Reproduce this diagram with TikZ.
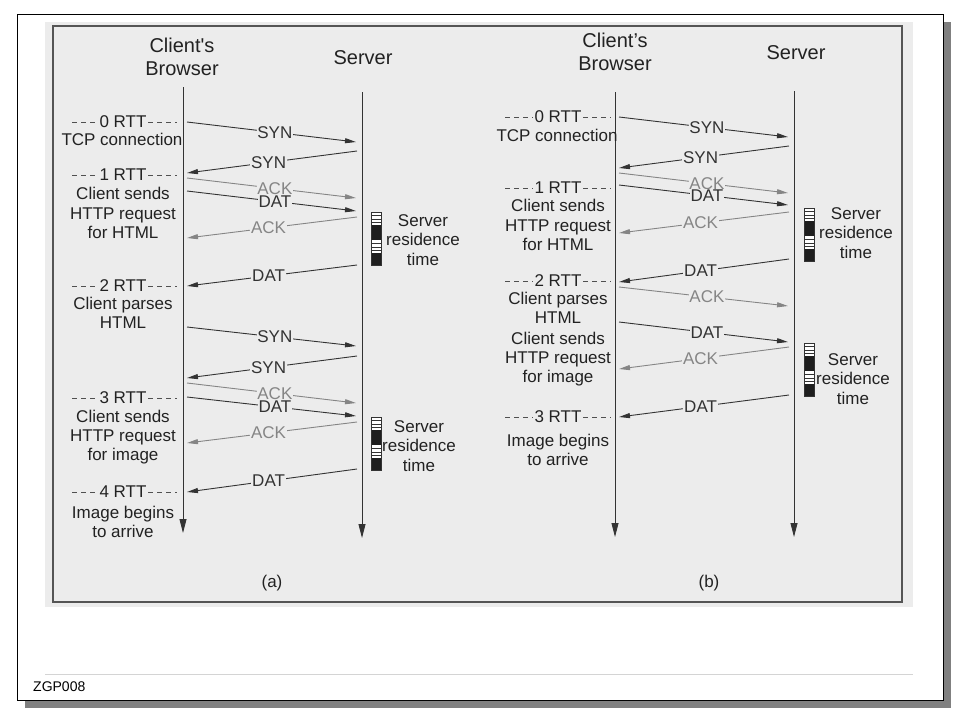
\documentclass[tikz,border=0pt]{standalone}
\usepackage{fontspec}
\setmainfont{Liberation Sans}
\usetikzlibrary{arrows.meta}
\definecolor{bgc}{HTML}{ECECEC}
\definecolor{txc}{HTML}{222222}
\definecolor{lnc}{HTML}{333333}
\definecolor{ltc}{HTML}{858585}
\definecolor{dsc}{HTML}{505050}
\definecolor{shc}{HTML}{808080}
\definecolor{frc}{HTML}{555555}
\definecolor{blk}{HTML}{1E1E1E}
\definecolor{sepc}{HTML}{D4D4D4}
\newcommand{\msgline}[7]{%
  \coordinate (#1a) at (#4,#5);
  \coordinate (#1b) at (#6,#7);
  \draw[msgarrow,#2] (#1a) -- node[lbl] (#1l) {#3} (#1b);}
\newcommand{\rttmark}[6]{%
  \node[rtt] (#1) at (#2,#3) {#6};
  \coordinate (#1l) at (#4,#3);
  \coordinate (#1r) at (#5,#3);
  \draw[dashline] (#1l) -- (#1.west);
  \draw[dashline] (#1.east) -- (#1r);}
\newcommand{\resbox}[2]{%
  \begin{scope}[shift={(#1,#2)}]
    \fill[white] (0,0) rectangle (10,53);
    \fill[blk] (0,13) rectangle (10,28);
    \fill[blk] (0,41) rectangle (10,53);
    \foreach \yy in {3.5,7,10.5,31.5,35,38.5}
      \draw[lnc,line width=0.6pt] (0,\yy) -- (10,\yy);
    \draw[lnc,line width=0.8pt] (0,0) rectangle (10,53);
  \end{scope}}
\begin{document}
\begin{tikzpicture}[x=1pt,y=-1pt,
  txt/.style={text=txc,font=\fontsize{17}{19.2}\selectfont,align=center,inner sep=0pt},
  hdr/.style={text=txc,font=\fontsize{20}{23}\selectfont,align=center,inner sep=0pt},
  lbl/.style={fill=bgc,font=\fontsize{17}{19}\selectfont,inner sep=0.8pt,pos=0.52},
  rtt/.style={text=txc,fill=bgc,font=\fontsize{17}{19}\selectfont,inner sep=1.5pt},
  dashline/.style={draw=dsc,line width=0.8pt,dash pattern=on 5pt off 4pt},
  msgarrow/.style={line width=0.9pt,-{Triangle[length=11pt,width=5pt]}},
  dk/.style={color=lnc},
  lt/.style={color=ltc},
  life/.style={line width=0.9pt,draw=lnc,-{Triangle[length=14pt,width=7pt]}}]
\useasboundingbox (0,0) rectangle (960,720);
\fill[white] (0,0) rectangle (960,720);
% slide frame with shadow
\fill[shc] (25,22) rectangle (951,708);
\draw[black,fill=white,line width=1pt] (17,14) rectangle (943,700);
\fill[bgc] (45,22) rectangle (913,607);
\draw[frc,line width=2pt] (53,26) rectangle (902,602);
\coordinate (sepl) at (45,674); \coordinate (sepr) at (913,674);
\draw[sepc,line width=1pt] (sepl) -- (sepr);
\node[anchor=west,text=black,font=\fontsize{14}{16}\selectfont,inner sep=0pt] (zgp) at (33,687) {ZGP008};

% ================= panel (a)
\node[hdr] (ha1) at (182,57) {Client\textquotesingle s\\Browser};
\node[hdr] (ha2) at (363,58) {Server};
\coordinate (ca0) at (183,87); \coordinate (ca1) at (183,533);
\coordinate (sa0) at (362,92); \coordinate (sa1) at (362,538);
\draw[life] (ca0) -- (ca1);
\draw[life] (sa0) -- (sa1);

\rttmark{ra0}{123}{122}{72}{177}{0 RTT}
\node[txt] (ta0) at (122,139) {TCP connection};
\rttmark{ra1}{123}{175}{72}{177}{1 RTT}
\node[txt] (ta1) at (123,213) {Client sends\\HTTP request\\for HTML};
\rttmark{ra2}{123}{286}{72}{177}{2 RTT}
\node[txt] (ta2) at (123,313) {Client parses\\HTML};
\rttmark{ra3}{123}{398}{72}{177}{3 RTT}
\node[txt] (ta3) at (123,437) {Client sends\\HTTP request\\for image};
\rttmark{ra4}{123}{492}{72}{177}{4 RTT}
\node[txt] (ta4) at (123,522) {Image begins\\to arrive};

\msgline{ma1}{dk}{SYN}{187}{122}{356}{142}
\msgline{ma2}{dk}{SYN}{357}{151}{187}{173}
\msgline{ma3}{lt}{ACK}{187}{178}{356}{198}
\msgline{ma4}{dk}{DAT}{187}{191}{356}{211}
\msgline{ma5}{lt}{ACK}{357}{217}{187}{238}
\msgline{ma6}{dk}{DAT}{357}{265}{187}{286}
\msgline{ma7}{dk}{SYN}{187}{327}{356}{346}
\msgline{ma8}{dk}{SYN}{357}{356}{187}{378}
\msgline{ma9}{lt}{ACK}{187}{383}{356}{403}
\msgline{ma10}{dk}{DAT}{187}{397}{356}{416}
\msgline{ma11}{lt}{ACK}{357}{422}{187}{443}
\msgline{ma12}{dk}{DAT}{357}{469}{187}{492}

\resbox{371}{212}
\node[txt] (sra1) at (423,240) {Server\\residence\\time};
\resbox{371}{417}
\node[txt] (sra2) at (419,446) {Server\\residence\\time};
\node[txt] (capa) at (272,583) {(a)};

% ================= panel (b)
\node[hdr] (hb1) at (615,52) {Client's\\Browser};
\node[hdr] (hb2) at (796,53) {Server};
\coordinate (cb0) at (615,92); \coordinate (cb1) at (615,537);
\coordinate (sb0) at (794,91); \coordinate (sb1) at (794,537);
\draw[life] (cb0) -- (cb1);
\draw[life] (sb0) -- (sb1);

\rttmark{rb0}{558}{117}{505}{611}{0 RTT}
\node[txt] (tb0) at (557,135) {TCP connection};
\rttmark{rb1}{558}{188}{505}{611}{1 RTT}
\node[txt] (tb1) at (558,225) {Client sends\\HTTP request\\for HTML};
\rttmark{rb2}{558}{281}{505}{611}{2 RTT}
\node[txt] (tb2) at (558,308) {Client parses\\HTML};
\node[txt] (tb3) at (558,359) {Client sends\\HTTP request\\for image};
\rttmark{rb3}{558}{417}{505}{611}{3 RTT}
\node[txt] (tb4) at (558,450) {Image begins\\to arrive};

\msgline{mb1}{dk}{SYN}{619}{117}{788}{137}
\msgline{mb2}{dk}{SYN}{789}{146}{619}{168}
\msgline{mb3}{lt}{ACK}{619}{173}{788}{193}
\msgline{mb4}{dk}{DAT}{619}{185}{788}{205}
\msgline{mb5}{lt}{ACK}{789}{212}{619}{233}
\msgline{mb6}{dk}{DAT}{789}{259}{619}{282}
\msgline{mb7}{lt}{ACK}{619}{287}{788}{306}
\msgline{mb8}{dk}{DAT}{619}{322}{788}{342}
\msgline{mb9}{lt}{ACK}{789}{347}{619}{369}
\msgline{mb10}{dk}{DAT}{789}{395}{619}{417}

\resbox{804}{208}
\node[txt] (srb1) at (856,233) {Server\\residence\\time};
\resbox{804}{343}
\node[txt] (srb2) at (853,379) {Server\\residence\\time};
\node[txt] (capb) at (709,583) {(b)};
\end{tikzpicture}
\end{document}
